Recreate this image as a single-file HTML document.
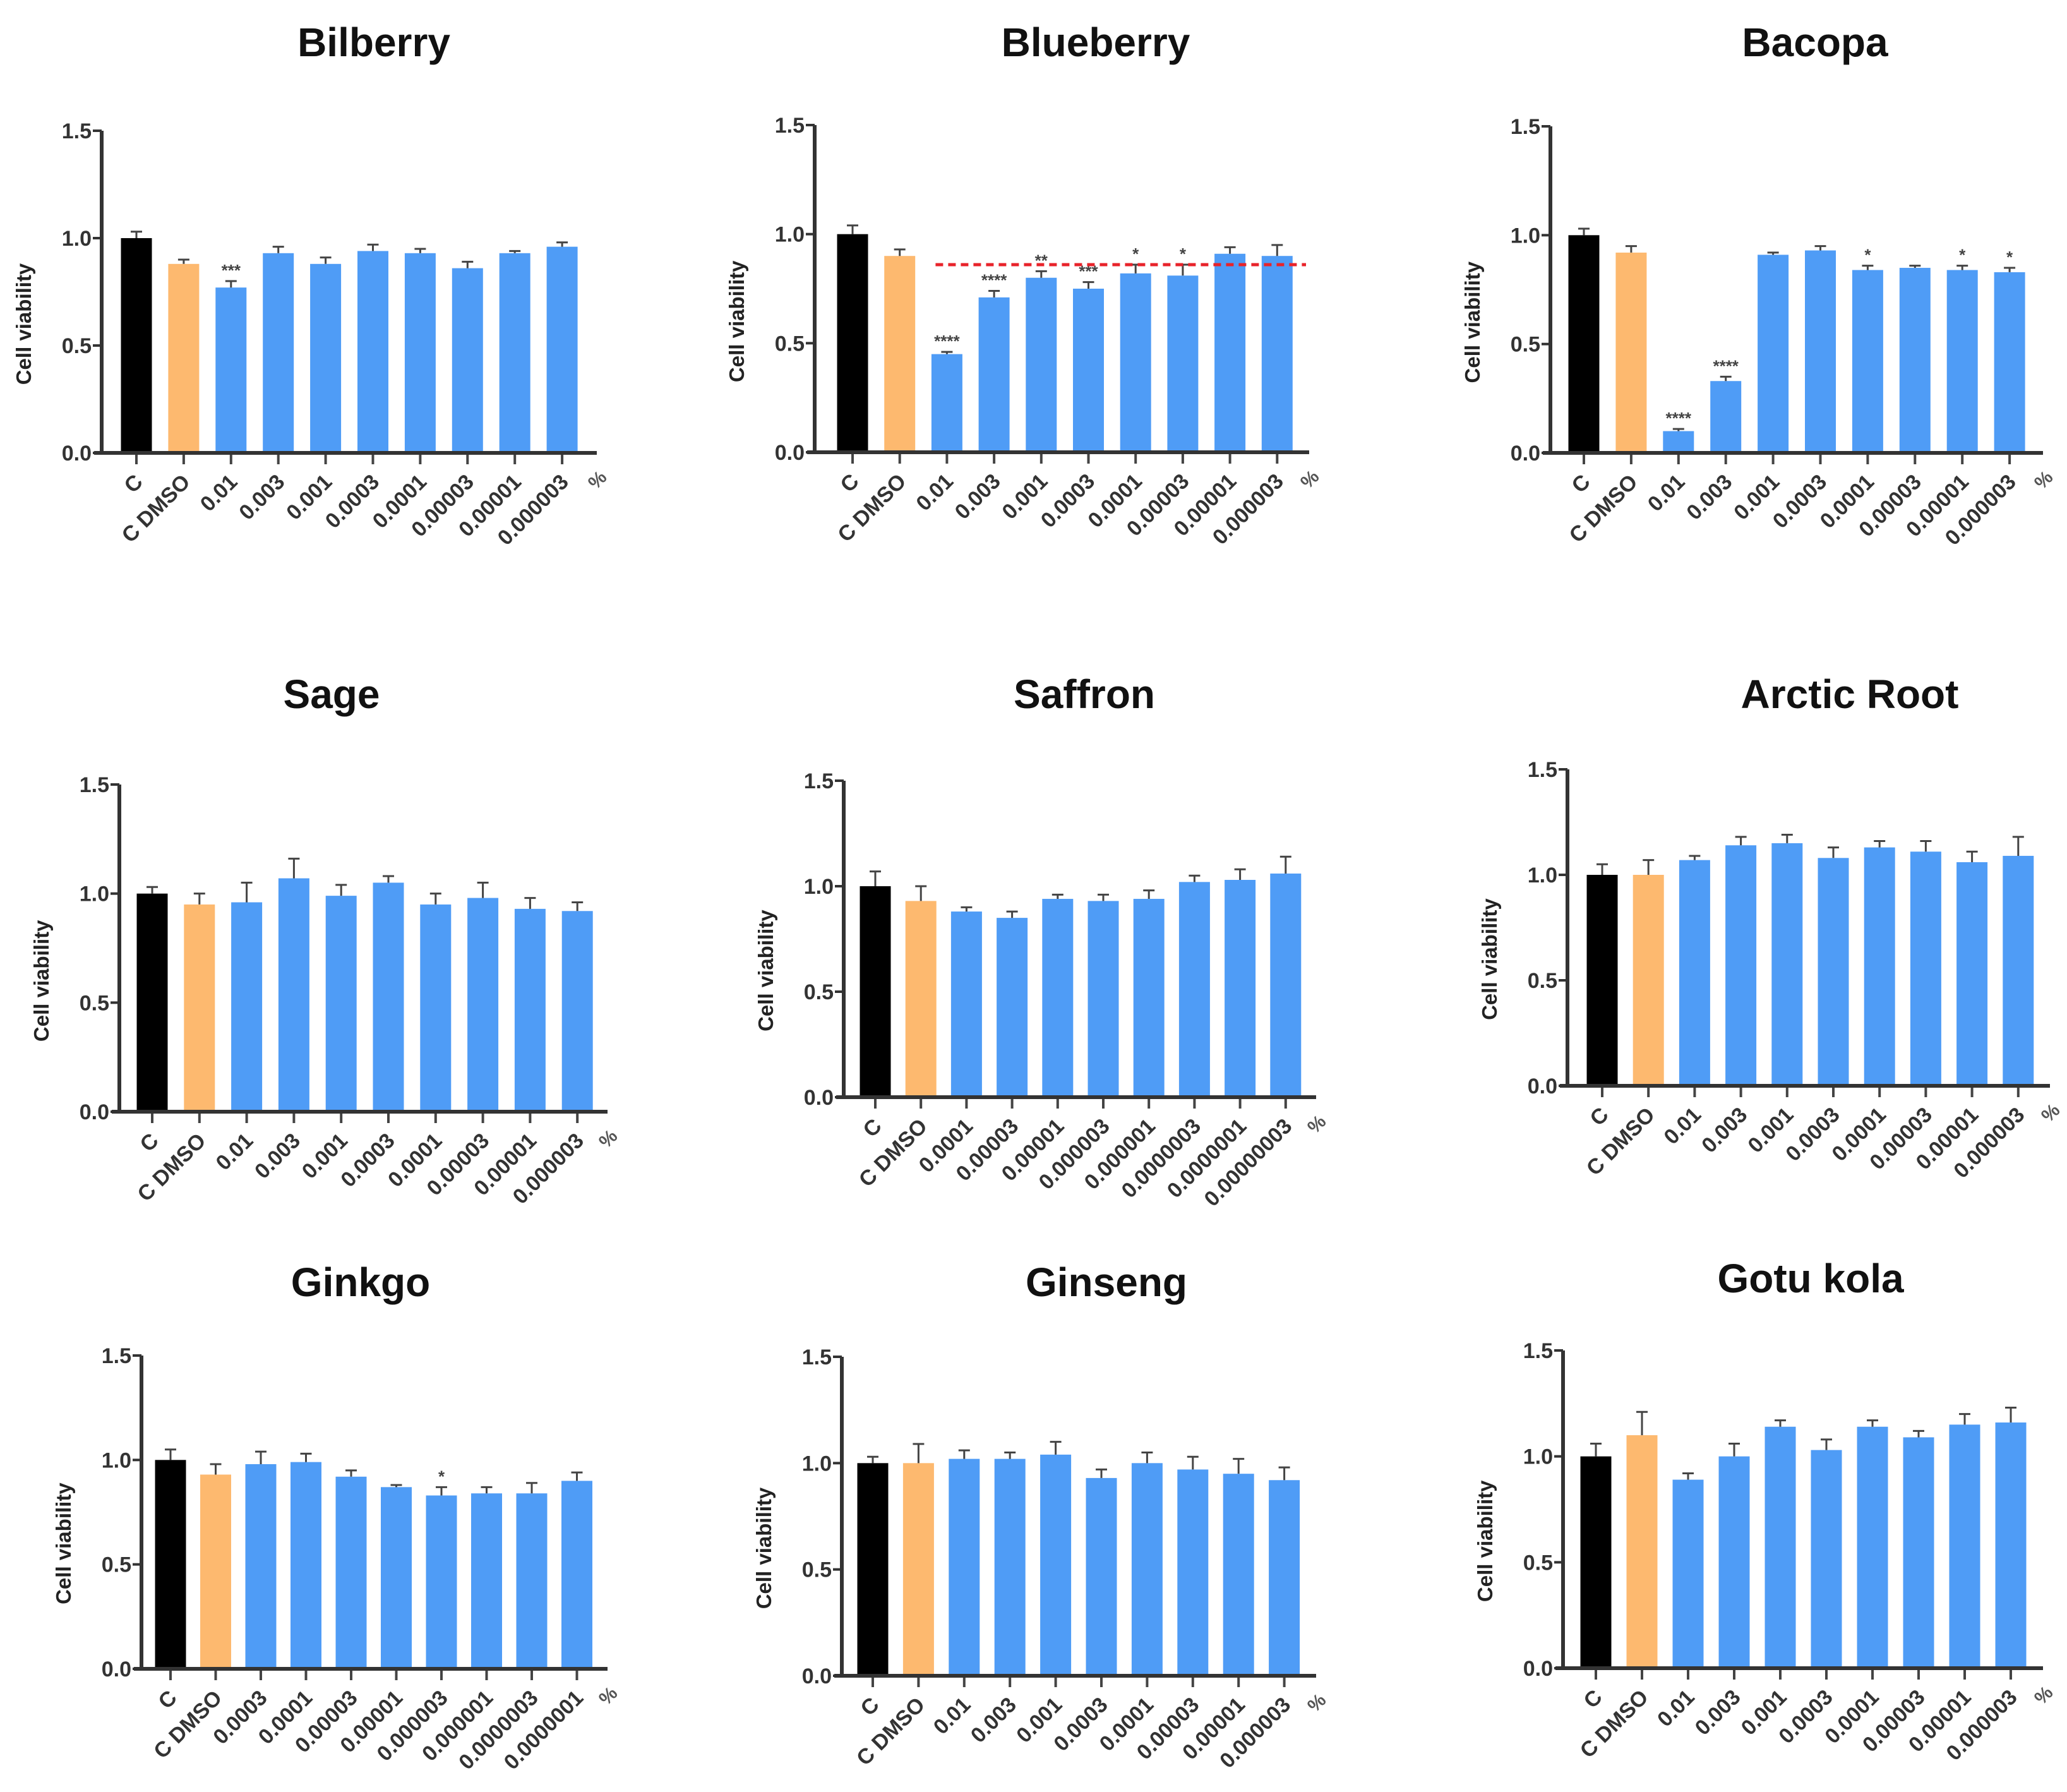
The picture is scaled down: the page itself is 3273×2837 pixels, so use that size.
<!DOCTYPE html>
<html><head><meta charset="utf-8">
<style>
html,body{margin:0;padding:0;background:#fff;}
svg{display:block;}
text{font-family:"Liberation Sans",Arial,sans-serif;}
</style></head>
<body>
<svg id="fig" width="3273" height="2837" viewBox="0 0 3273 2837" xmlns="http://www.w3.org/2000/svg"></svg>
<script>
const titles = ["Bilberry","Blueberry","Bacopa","Sage","Saffron","Arctic Root","Ginkgo","Ginseng","Gotu kola"];
const labelsA = ["C","C DMSO","0.01","0.003","0.001","0.0003","0.0001","0.00003","0.00001","0.000003"];
const labelsSaffron = ["C","C DMSO","0.0001","0.00003","0.00001","0.000003","0.000001","0.0000003","0.0000001","0.00000003"];
const labelsGinkgo = ["C","C DMSO","0.0003","0.0001","0.00003","0.00001","0.000003","0.000001","0.0000003","0.0000001"];
const yTicks = [0.0,0.5,1.0,1.5];
const yTickLabels = ["0.0","0.5","1.0","1.5"];
const bilberryVals = [1.00,0.88,0.77,0.93,0.88,0.94,0.93,0.86,0.93,0.96];
const bilberryErr = [0.03,0.02,0.03,0.03,0.03,0.03,0.02,0.03,0.01,0.02];
const bilberryStars = ["","","***","","","","","","",""];
const blueberryVals = [1.00,0.90,0.45,0.71,0.80,0.75,0.82,0.81,0.91,0.90];
const blueberryErr = [0.04,0.03,0.01,0.03,0.03,0.03,0.04,0.05,0.03,0.05];
const blueberryStars = ["","","****","****","**","***","*","*","",""];
const blueberryRefLine = 0.86;
const bacopaVals = [1.00,0.92,0.10,0.33,0.91,0.93,0.84,0.85,0.84,0.83];
const bacopaErr = [0.03,0.03,0.01,0.02,0.01,0.02,0.02,0.01,0.02,0.02];
const bacopaStars = ["","","****","****","","","*","","*","*"];
const sageVals = [1.00,0.95,0.96,1.07,0.99,1.05,0.95,0.98,0.93,0.92];
const sageErr = [0.03,0.05,0.09,0.09,0.05,0.03,0.05,0.07,0.05,0.04];
const saffronVals = [1.00,0.93,0.88,0.85,0.94,0.93,0.94,1.02,1.03,1.06];
const saffronErr = [0.07,0.07,0.02,0.03,0.02,0.03,0.04,0.03,0.05,0.08];
const arcticVals = [1.00,1.00,1.07,1.14,1.15,1.08,1.13,1.11,1.06,1.09];
const arcticErr = [0.05,0.07,0.02,0.04,0.04,0.05,0.03,0.05,0.05,0.09];
const ginkgoVals = [1.00,0.93,0.98,0.99,0.92,0.87,0.83,0.84,0.84,0.90];
const ginkgoErr = [0.05,0.05,0.06,0.04,0.03,0.01,0.04,0.03,0.05,0.04];
const ginkgoStars = ["","","","","","","*","","",""];
const ginsengVals = [1.00,1.00,1.02,1.02,1.04,0.93,1.00,0.97,0.95,0.92];
const ginsengErr = [0.03,0.09,0.04,0.03,0.06,0.04,0.05,0.06,0.07,0.06];
const gotuVals = [1.00,1.10,0.89,1.00,1.14,1.03,1.14,1.09,1.15,1.16];
const gotuErr = [0.06,0.11,0.03,0.06,0.03,0.05,0.03,0.03,0.05,0.07];

const none = ["","","","","","","","","",""];
const panels = [
 {t:0,v:bilberryVals,e:bilberryErr,s:bilberryStars,l:labelsA,ax:161,y15:207,y0:717,c0:216,sp:74.9,xe:945,tx:592,ty:67},
 {t:1,v:blueberryVals,e:blueberryErr,s:blueberryStars,l:labelsA,ax:1290,y15:198,y0:716,c0:1350,sp:74.7,xe:2073,tx:1735,ty:67,ref:blueberryRefLine},
 {t:2,v:bacopaVals,e:bacopaErr,s:bacopaStars,l:labelsA,ax:2455,y15:200,y0:717,c0:2508,sp:74.9,xe:3235,tx:2874,ty:67},
 {t:3,v:sageVals,e:sageErr,s:none,l:labelsA,ax:189,y15:1242,y0:1760,c0:241,sp:74.8,xe:962,tx:525,ty:1099},
 {t:4,v:saffronVals,e:saffronErr,s:none,l:labelsSaffron,ax:1336,y15:1236,y0:1737,c0:1386,sp:72.2,xe:2084,tx:1717,ty:1099},
 {t:5,v:arcticVals,e:arcticErr,s:none,l:labelsA,ax:2482,y15:1218,y0:1719,c0:2537,sp:73.2,xe:3246,tx:2929,ty:1099},
 {t:6,v:ginkgoVals,e:ginkgoErr,s:ginkgoStars,l:labelsGinkgo,ax:224,y15:2146,y0:2642,c0:270,sp:71.5,xe:962,tx:571,ty:2030},
 {t:7,v:ginsengVals,e:ginsengErr,s:none,l:labelsA,ax:1333,y15:2148,y0:2653,c0:1382,sp:72.4,xe:2084,tx:1752,ty:2030},
 {t:8,v:gotuVals,e:gotuErr,s:none,l:labelsA,ax:2475,y15:2138,y0:2641,c0:2527,sp:73,xe:3235,tx:2867,ty:2024}
];
const colors = ["#000000","#FDB96F","#4F9CF6"];
const NS = "http://www.w3.org/2000/svg";
const svg = document.getElementById("fig");
function mk(tag, attrs, parent){
  const el = document.createElementNS(NS, tag);
  for (const k in attrs) el.setAttribute(k, attrs[k]);
  parent.appendChild(el);
  return el;
}
panels.forEach(function(p){
  const g = mk("g", {}, svg);
  
  
  const yS = function(v){ return p.y0 - (p.y0 - p.y15) * v / 1.5; };
  const xS = function(i){ return p.c0 + i * p.sp; };
  const bw = 49;
  const title = mk("text", {x:p.tx, y:p.ty+22, "text-anchor":"middle", "font-size":64, "font-weight":"bold", fill:"#111"}, g);
  title.textContent = titles[p.t];
  
  
  p.v.forEach(function(val, i){
    const col = i === 0 ? colors[0] : (i === 1 ? colors[1] : colors[2]);
    const top = yS(val), cx = xS(i);
    const r = mk("rect", {x:cx-bw/2, y:top, width:bw, height:p.y0-top, fill:col}, g);
    
    
    const et = yS(val + p.e[i]);
    const eb = mk("path", {d:"M"+cx+" "+top+"V"+et+"M"+(cx-9)+" "+et+"H"+(cx+9), stroke:"#444", "stroke-width":3, fill:"none"}, g);
    
    
    if (p.s[i]) {
      const st = mk("text", {x:cx, y:et-8, "text-anchor":"middle", "font-size":26, "font-weight":"bold", fill:"#444"}, g);
      st.textContent = p.s[i];
      
      
    }
    mk("line", {x1:cx, y1:p.y0, x2:cx, y2:p.y0+18, stroke:"#444", "stroke-width":4}, g);
    const lx = cx + 12, ly = p.y0 + 48;
    const lb = mk("text", {x:lx, y:ly, "text-anchor":"end", "font-size":34, "font-weight":"bold", fill:"#333", transform:"rotate(-45 "+lx+" "+ly+")"}, g);
    lb.textContent = p.l[i];
    
    
  });
  if (p.ref !== undefined) {
    const ry = yS(p.ref);
    const rl = mk("line", {x1:xS(2)-18, y1:ry, x2:p.xe-5, y2:ry, stroke:"#e8232a", "stroke-width":5, "stroke-dasharray":"12 8"}, g);
    
    
  }
  const ya = mk("line", {x1:p.ax, y1:p.y15, x2:p.ax, y2:p.y0+3, stroke:"#333", "stroke-width":6}, g);
  
  
  const xa = mk("line", {x1:p.ax-12, y1:p.y0, x2:p.xe, y2:p.y0, stroke:"#333", "stroke-width":6}, g);
  
  
  yTicks.forEach(function(t, k){
    const y = yS(t);
    mk("line", {x1:p.ax-14, y1:y, x2:p.ax, y2:y, stroke:"#333", "stroke-width":4}, g);
    const tl = mk("text", {x:p.ax-16, y:y+12, "text-anchor":"end", "font-size":34, "font-weight":"bold", fill:"#333"}, g);
    tl.textContent = yTickLabels[k];
    
    
  });
  const pc = mk("text", {x:p.xe+8, y:p.y0+50, "text-anchor":"middle", "font-size":30, "font-weight":"bold", fill:"#555", transform:"rotate(-45 "+(p.xe+8)+" "+(p.y0+50)+")"}, g);
  pc.textContent = "%";
  
  
  const yx = p.ax - 112, yy = yS(0.6);
  const yl = mk("text", {x:yx, y:yy, "text-anchor":"middle", "font-size":33, "font-weight":"bold", fill:"#222", transform:"rotate(-90 "+yx+" "+yy+")"}, g);
  yl.textContent = "Cell viability";
  
  
});
</script>
</body></html>
